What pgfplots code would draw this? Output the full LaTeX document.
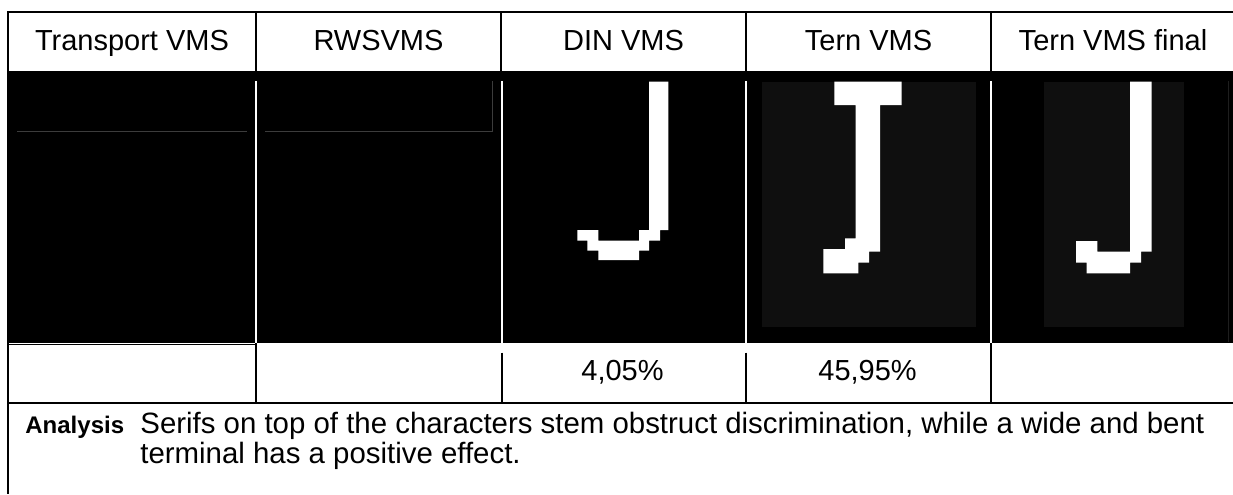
\documentclass[border=0pt]{standalone}
\usepackage{pgfplots}
\pgfplotsset{compat=1.18}
\usepackage{fontspec}
\setmainfont{Liberation Sans}
\definecolor{dimg}{HTML}{0F0F0F}
\definecolor{lineg}{HTML}{3C3C3C}
\definecolor{edgeg}{HTML}{1E1E1E}
\begin{document}
\begin{tikzpicture}
\begin{axis}[scale only axis, width=616.5pt, height=247pt,
  xmin=0, xmax=1233, ymin=0, ymax=494, y dir=reverse, hide axis]
% background
\addplot[fill=white, draw=none] coordinates {(0,0) (1233,0) (1233,494) (0,494)} -- cycle;
% black image row
\addplot[fill=black, draw=none] coordinates {(7,71) (1240,71) (1240,343) (7,343)} -- cycle;
% dark grey image backgrounds
\addplot[fill=dimg, draw=none] coordinates {(761.7,81.7) (976,81.7) (976,326.7) (761.7,326.7)} -- cycle;
\addplot[fill=dimg, draw=none] coordinates {(1044,81.7) (1184,81.7) (1184,326.7) (1044,326.7)} -- cycle;
% faint grey lines in empty images
\addplot[lineg, line width=0.5pt] coordinates {(17,131.7) (247,131.7)};
\addplot[lineg, line width=0.5pt] coordinates {(265,131.7) (492.7,131.7) (492.7,81)};
\addplot[edgeg, line width=0.5pt] coordinates {(1228,81) (1228,342)};
% white gaps between images
\addplot[white, line width=1pt] coordinates {(256,81) (256,343)};
\addplot[white, line width=1pt] coordinates {(501.5,81) (501.5,343)};
\addplot[white, line width=1pt] coordinates {(746,81) (746,343)};
\addplot[white, line width=1pt] coordinates {(991,81) (991,343)};
% glyph DIN VMS
\addplot[fill=white, draw=none] coordinates {(649,81.7) (668.3,81.7) (668.3,230) (660,230) (660,240.7) (649,240.7) (649,250.7) (639,250.7) (639,260) (598.3,260) (598.3,250.7) (587.3,250.7) (587.3,240.7) (577.3,240.7) (577.3,230) (598.3,230) (598.3,240.7) (639,240.7) (639,230) (649,230)} -- cycle;
% glyph Tern VMS
\addplot[fill=white, draw=none] coordinates {(834.3,81.7) (901.7,81.7) (901.7,105) (880,105) (880,251.7) (869,251.7) (869,262.7) (858.3,262.7) (858.3,273.3) (823.3,273.3) (823.3,249) (845,249) (845,238.3) (855.7,238.3) (855.7,105) (834.3,105)} -- cycle;
% glyph Tern VMS final
\addplot[fill=white, draw=none] coordinates {(1130,81.7) (1151.7,81.7) (1151.7,251.7) (1141,251.7) (1141,262.7) (1130,262.7) (1130,273.3) (1086.7,273.3) (1086.7,262.7) (1076,262.7) (1076,241) (1097.3,241) (1097.3,251.7) (1130,251.7)} -- cycle;
% table borders
\addplot[black, line width=1pt] coordinates {(7,12) (1240,12)};
\addplot[black, line width=1pt] coordinates {(8,12) (8,494)};
\addplot[black, line width=1pt] coordinates {(256,12) (256,71)};
\addplot[black, line width=1pt] coordinates {(501,12) (501,71)};
\addplot[black, line width=1pt] coordinates {(746,12) (746,71)};
\addplot[black, line width=1pt] coordinates {(990.7,12) (990.7,71)};
\addplot[black, line width=0.7pt] coordinates {(8,344.3) (256,344.3)};
\addplot[black, line width=1pt] coordinates {(7,403) (1240,403)};
\addplot[black, line width=1pt] coordinates {(256,343) (256,403)};
\addplot[black, line width=1pt] coordinates {(501.7,352.7) (501.7,403)};
\addplot[black, line width=1pt] coordinates {(746,352.7) (746,403)};
\addplot[black, line width=1pt] coordinates {(991,343) (991,403)};
% header texts
\node[anchor=base, font=\fontsize{14.5}{17}\selectfont] at (axis cs:132,50) {Transport VMS};
\node[anchor=base, font=\fontsize{14.5}{17}\selectfont] at (axis cs:378.5,50) {RWSVMS};
\node[anchor=base, font=\fontsize{14.5}{17}\selectfont] at (axis cs:623.5,50) {DIN VMS};
\node[anchor=base, font=\fontsize{14.5}{17}\selectfont] at (axis cs:868.5,50) {Tern VMS};
\node[anchor=base, font=\fontsize{14.5}{17}\selectfont] at (axis cs:1113,50) {Tern VMS final};
% values
\node[anchor=base, font=\fontsize{14.5}{17}\selectfont] at (axis cs:622.5,380.7) {4,05\%};
\node[anchor=base, font=\fontsize{14.5}{17}\selectfont] at (axis cs:867.6,380.7) {45,95\%};
% analysis
\node[anchor=base west, inner sep=0pt, font=\fontsize{12}{14}\selectfont\bfseries] at (axis cs:25,433) {Analysis};
\node[anchor=base west, inner sep=0pt, font=\fontsize{14.7}{17}\selectfont] at (axis cs:140,433) {Serifs on top of the characters stem obstruct discrimination, while a wide and bent};
\node[anchor=base west, inner sep=0pt, font=\fontsize{14.7}{17}\selectfont] at (axis cs:140,463.3) {terminal has a positive effect.};
\end{axis}
\pgfresetboundingbox
\path (current axis.south west) rectangle (current axis.north east);
\end{tikzpicture}
\end{document}
